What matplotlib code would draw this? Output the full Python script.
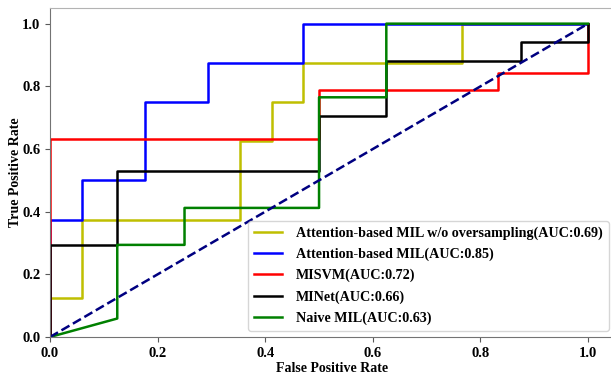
import matplotlib
matplotlib.use("Agg")
import matplotlib.pyplot as plt

# ROC curve corner points
fpr_noos = [0.0, 0.0, 0.059, 0.059, 0.353, 0.353, 0.412, 0.412, 0.471, 0.471, 0.765, 0.765, 1.0]
tpr_noos = [0.0, 0.125, 0.125, 0.375, 0.375, 0.625, 0.625, 0.75, 0.75, 0.875, 0.875, 1.0, 1.0]

fpr_att = [0.0, 0.0, 0.059, 0.059, 0.176, 0.176, 0.294, 0.294, 0.471, 0.471, 1.0]
tpr_att = [0.0, 0.375, 0.375, 0.5, 0.5, 0.75, 0.75, 0.875, 0.875, 1.0, 1.0]

fpr_svm = [0.0, 0.0, 0.5, 0.5, 0.833, 0.833, 1.0, 1.0]
tpr_svm = [0.0, 0.632, 0.632, 0.789, 0.789, 0.842, 0.842, 1.0]

fpr_minet = [0.0, 0.0, 0.125, 0.125, 0.5, 0.5, 0.625, 0.625, 0.875, 0.875, 1.0, 1.0]
tpr_minet = [0.0, 0.294, 0.294, 0.529, 0.529, 0.706, 0.706, 0.882, 0.882, 0.941, 0.941, 1.0]

fpr_naive = [0.0, 0.125, 0.125, 0.25, 0.25, 0.5, 0.5, 0.625, 0.625, 1.0]
tpr_naive = [0.0, 0.059, 0.294, 0.294, 0.412, 0.412, 0.765, 0.765, 1.0, 1.0]

labels = ["Attention-based MIL w/o oversampling(AUC:0.69)",
          "Attention-based MIL(AUC:0.85)",
          "MISVM(AUC:0.72)",
          "MINet(AUC:0.66)",
          "Naive MIL(AUC:0.63)"]
colors = ["y", "b", "r", "k", "g"]

plt.rcParams["font.family"] = ["Liberation Serif", "DejaVu Serif"]
plt.rcParams["font.weight"] = "bold"

fig = plt.figure(figsize=(6.11, 3.75), dpi=100)
# axes run a little past the right edge (the reference is cropped there)
ax = fig.add_axes([50 / 611, 38 / 375, 565 / 611, 329 / 375])

curves = [(fpr_noos, tpr_noos), (fpr_att, tpr_att), (fpr_svm, tpr_svm),
          (fpr_minet, tpr_minet), (fpr_naive, tpr_naive)]
for (f, t), c, lab in zip(curves, colors, labels):
    ax.plot(f, t, color=c, lw=1.8, label=lab)
ax.plot([0, 1], [0, 1], color="navy", lw=1.8, linestyle="--")

ax.set_xlim(0.0, 1.05)
ax.set_ylim(0.0, 1.05)
ax.set_xticks([0.0, 0.2, 0.4, 0.6, 0.8, 1.0])
ax.set_yticks([0.0, 0.2, 0.4, 0.6, 0.8, 1.0])
ax.tick_params(labelsize=10.5, length=3.5, color="0.35")
for lab in ax.get_xticklabels() + ax.get_yticklabels():
    lab.set_fontweight("bold")
ax.set_xlabel("False Positive Rate", fontsize=10, fontweight="bold", labelpad=2)
ax.set_ylabel("True Positive Rate", fontsize=10, fontweight="bold", labelpad=0)

for s in ax.spines.values():
    s.set_color("0.45")
ax.spines["top"].set_color("0.7")

leg = ax.legend(loc="lower right", prop={"weight": "bold", "size": 10.2},
                borderaxespad=0.45, handletextpad=1.0, labelspacing=0.55)

fig.savefig("out.png", dpi=100)
